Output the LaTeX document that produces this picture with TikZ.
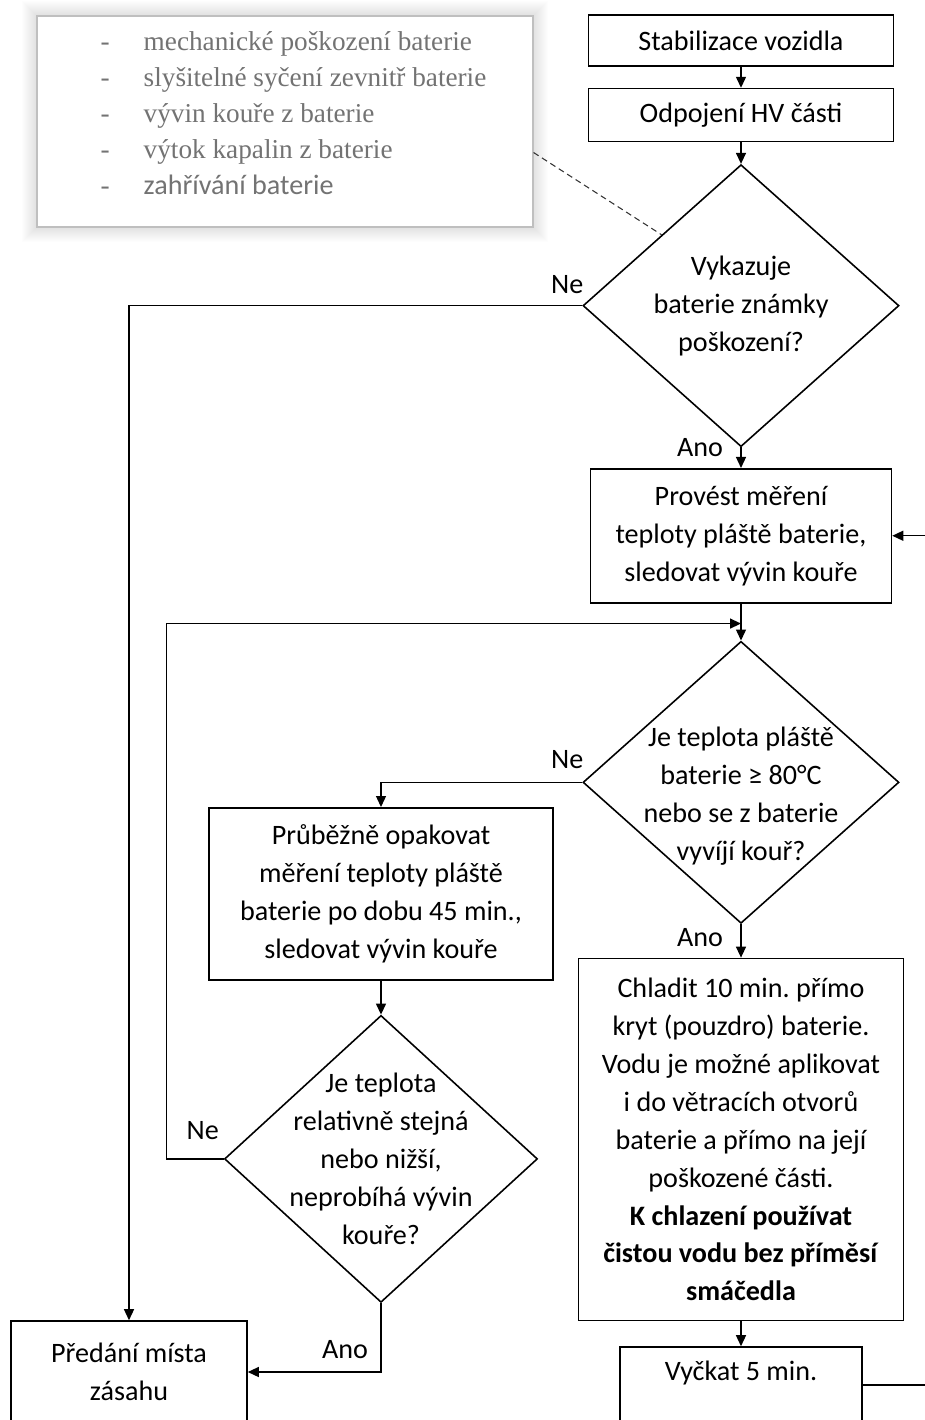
\documentclass[tikz,border=0pt]{standalone}
\usepackage{fontspec}
\setmainfont{Carlito}
\newfontfamily\notefont{Liberation Serif}
\usetikzlibrary{positioning,arrows.meta,shapes.geometric,backgrounds}
\frenchspacing

\begin{document}
\begin{tikzpicture}[
  x=0.2mm, y=-0.2mm,
  box/.style={draw, line width=0.9pt, align=center, inner sep=0pt, font=\fontsize{16}{21.6}\selectfont},
  dec/.style={draw, diamond, line width=0.9pt, align=center, inner sep=-9mm, font=\fontsize{16}{21.6}\selectfont},
  note/.style={draw=black!25, fill=white, line width=0.6pt, text=black!55, minimum width=99.2mm, minimum height=42.2mm, inner sep=0pt},
  lbl/.style={font=\fontsize{16}{19}\selectfont},
  arr/.style={-{Triangle[length=2.2mm,width=2mm]}, line width=0.75pt}]
  \path[use as bounding box, clip] (0,0) rectangle (925,1420);
  \node[note] (symp) at (285,121.5) {\fontsize{15.5}{20.5}\selectfont
    \begin{tabular}{@{\hspace{3.4mm}}l@{\hspace{6.8mm}}l@{}}
    \notefont - & \notefont mechanické poškození baterie\\
    \notefont - & \notefont slyšitelné syčení zevnitř baterie\\
    \notefont - & \notefont vývin kouře z baterie\\
    \notefont - & \notefont výtok kapalin z baterie\\
    \notefont - & \fontsize{16}{20.5}\selectfont zahřívání baterie\\[2.4mm]
    \end{tabular}};
  \begin{scope}[on background layer]
    \foreach \d in {1,...,14}
      \fill[black, opacity=0.007] ([shift={(-\d,-\d)}]symp.north west) rectangle ([shift={(\d,\d)}]symp.south east);
  \end{scope}
  \node[box, minimum width=61mm, minimum height=10.2mm] (stab) at (741,40.5) {Stabilizace vozidla};
  \node[box, minimum width=61mm, minimum height=10.6mm, below=4.2mm of stab] (odp) {Odpojení HV části};
  \node[dec, minimum width=63.2mm, minimum height=56.4mm, below=4.3mm of odp] (q1) {Vykazuje\\ baterie známky\\ poškození?};
  \node[box, minimum width=60.2mm, minimum height=26.8mm, below=4.1mm of q1] (prov) {Provést měření\\ teploty pláště baterie,\\ sledovat vývin kouře};
  \node[dec, minimum width=63.2mm, minimum height=56.4mm, below=7.4mm of prov] (q2) {\rule{0pt}{9.4mm}Je teplota pláště\\ baterie ≥ 80°C\\ nebo se z baterie\\ vyvíjí kouř?};
  \node[box, minimum width=65mm, minimum height=72.4mm, below=6.7mm of q2] (chlad) {Chladit 10 min. přímo\\ kryt (pouzdro) baterie.\\ Vodu je možné aplikovat\\ i do větracích otvorů\\ baterie a přímo na její\\ poškozené části.\\ \textbf{K chlazení používat}\\ \textbf{čistou vodu bez příměsí}\\ \textbf{smáčedla}};
  \node[box, minimum width=48.4mm, minimum height=15.2mm, text depth=5.6mm, below=5mm of chlad] (vyck) {Vyčkat 5 min.};
  \node[box, minimum width=68.8mm, minimum height=34.4mm, anchor=north] (opak) at (381,807) {Průběžně opakovat\\ měření teploty pláště\\ baterie po dobu 45 min.,\\ sledovat vývin kouře};
  \node[dec, minimum width=62.6mm, minimum height=57.4mm, below=6.8mm of opak] (q3) {Je teplota\\ relativně stejná\\ nebo nižší,\\ neprobíhá vývin\\ kouře?};
  \node[box, minimum width=47.2mm, minimum height=20.4mm] (pred) at (129,1372) {Předání místa\\ zásahu};
  \draw[arr] (stab) -- (odp);
  \draw[arr] (odp) -- (q1);
  \draw[arr] (q1) -- (prov);
  \draw[arr] (prov) -- (q2);
  \draw[arr] (q2) -- (chlad);
  \draw[arr] (chlad) -- (vyck);
  \draw[arr] (opak) -- (q3);
  \draw[arr] (q1.west) -| (pred.north);
  \draw[arr] (q2.west) -| (opak.north);
  \draw[arr] (q3.west) -- ++(-57,0) |- ([yshift=-4mm]prov.south);
  \draw[arr] (q3.south) |- (pred.east);
  \draw[arr] (vyck.east) -- ++(80,0) |- (prov.east);
  \draw[black!80, line width=0.6pt, dash pattern=on 1.2mm off 0.8mm] ([yshift=-6.2mm]symp.east) -- (q1.north west);
  \node[lbl] (ne1) at ([xshift=-3mm, yshift=4.2mm]q1.west) {Ne};
  \node[lbl] (ano1) at ([xshift=-8.2mm]q1.south) {Ano};
  \node[lbl] (ne2) at ([xshift=-3mm, yshift=4.6mm]q2.west) {Ne};
  \node[lbl] (ano2) at ([xshift=-8.2mm, yshift=-2.6mm]q2.south) {Ano};
  \node[lbl] (ne3) at ([xshift=-4.2mm, yshift=5.6mm]q3.west) {Ne};
  \node[lbl] (ano3) at ([xshift=-7.2mm, yshift=-9.2mm]q3.south) {Ano};
\end{tikzpicture}
\end{document}
